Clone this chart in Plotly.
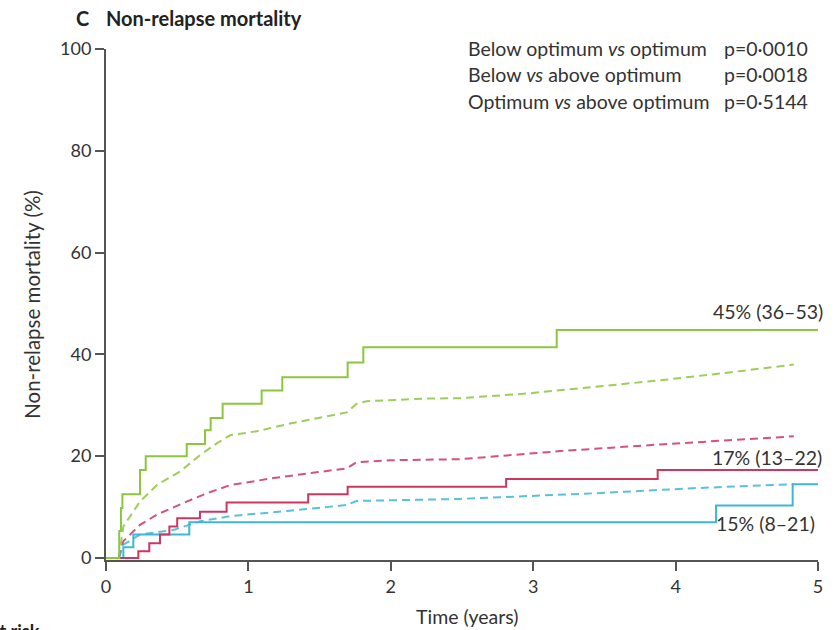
import plotly.graph_objects as go

# Cumulative incidence of non-relapse mortality (%), step curves by group
below_t = [0, 0.093, 0.093, 0.105, 0.115, 0.239, 0.279, 0.567, 0.695, 0.735, 0.819,
           1.093, 1.238, 1.697, 1.807, 3.165, 5.0]
below_y = [0, 0, 5.3, 9.8, 12.5, 17.3, 20.0, 22.4, 25.1, 27.5, 30.3,
           32.9, 35.5, 38.4, 41.4, 44.8, 44.8]

optimum_t = [0, 0.105, 0.122, 0.192, 0.585, 4.284, 4.822, 5.0]
optimum_y = [0, 0, 2.1, 4.6, 7.0, 10.3, 14.5, 14.5]

above_t = [0, 0.227, 0.304, 0.379, 0.445, 0.50, 0.66, 0.847, 1.42, 1.697, 2.81, 3.874, 5.0]
above_y = [0, 1.3, 2.9, 4.6, 6.2, 7.8, 9.1, 10.9, 12.5, 14.0, 15.5, 17.3, 17.3]

# Comparison curves (dashed)
below_ref_t = [0.09, 0.122, 0.239, 0.356, 0.52, 0.66, 0.777, 0.871, 1.058, 1.292, 1.526,
               1.69, 1.76, 1.83, 2.23, 2.486, 2.954, 3.42, 3.89, 4.36, 4.83]
below_ref_y = [0, 6.2, 11.1, 14.3, 17.0, 20.2, 22.5, 24.1, 24.9, 26.4, 27.7,
               28.6, 30.3, 30.8, 31.3, 31.4, 32.3, 33.6, 34.9, 36.4, 38.0]

above_ref_t = [0.09, 0.122, 0.239, 0.356, 0.543, 0.707, 0.871, 1.175, 1.526, 1.69, 1.76,
               1.994, 2.486, 3.19, 3.89, 4.83]
above_ref_y = [0, 3.3, 6.5, 8.5, 10.8, 12.7, 14.3, 15.7, 17.0, 17.6, 18.8,
               19.2, 19.4, 21.0, 22.3, 23.9]

optimum_ref_t = [0.09, 0.122, 0.239, 0.473, 0.66, 0.871, 1.29, 1.69, 1.76, 2.486, 3.42, 4.12, 4.83]
optimum_ref_y = [0, 2.6, 4.6, 5.5, 7.2, 8.2, 9.3, 10.4, 11.2, 11.6, 12.7, 13.7, 14.5]

end_labels = ["45% (36–53)", "17% (13–22)", "15% (8–21)"]
end_label_y = [48.5, 19.8, 6.8]
end_label_shift = [7, 6, -1]

comparisons = ["Below optimum <i>vs</i> optimum", "Below <i>vs</i> above optimum",
               "Optimum <i>vs</i> above optimum"]
p_values = ["p=0·0010", "p=0·0018", "p=0·5144"]

x_ticks = [0, 1, 2, 3, 4, 5]
y_ticks = [0, 20, 40, 60, 80, 100]

GREEN = "#8cc63f"
RED = "#cc3760"
BLUE = "#3db6d8"
TEXT = "#333333"
FONT = "Lato"

fig = go.Figure()

for t, y, c in [(below_ref_t, below_ref_y, GREEN), (above_ref_t, above_ref_y, RED),
                (optimum_ref_t, optimum_ref_y, BLUE)]:
    fig.add_trace(go.Scatter(x=t, y=y, mode="lines", opacity=0.85,
                             line=dict(color=c, width=2, dash="8px,5px"),
                             showlegend=False, hoverinfo="skip"))

for t, y, c in [(optimum_t, optimum_y, BLUE), (above_t, above_y, RED), (below_t, below_y, GREEN)]:
    fig.add_trace(go.Scatter(x=t, y=y, mode="lines", line=dict(color=c, width=2, shape="hv"),
                             showlegend=False, hoverinfo="skip"))

annotations = []
for lbl, yy, sh in zip(end_labels, end_label_y, end_label_shift):
    annotations.append(dict(x=5.0, y=yy, xref="x", yref="y", text=lbl, showarrow=False,
                            xanchor="right", yanchor="middle", xshift=sh,
                            font=dict(family=FONT, size=19.5, color=TEXT)))

for i, (cmp_txt, p) in enumerate(zip(comparisons, p_values)):
    ypix = 48 + i * 26.5
    annotations.append(dict(x=466, y=630 - ypix, xref="paper", yref="paper", text=cmp_txt,
                            showarrow=False, xanchor="left", yanchor="middle",
                            font=dict(family=FONT, size=19.5, color=TEXT)))
    annotations.append(dict(x=722, y=630 - ypix, xref="paper", yref="paper", text=p,
                            showarrow=False, xanchor="left", yanchor="middle",
                            font=dict(family=FONT, size=19.5, color=TEXT)))

# Panel title
annotations.append(dict(x=74, y=630 - 18, xref="paper", yref="paper",
                        text="<b>C</b>", showarrow=False, xanchor="left", yanchor="middle",
                        font=dict(family=FONT, size=20, color="#222")))
annotations.append(dict(x=104, y=630 - 18, xref="paper", yref="paper",
                        text="<b>Non-relapse mortality</b>", showarrow=False,
                        xanchor="left", yanchor="middle",
                        font=dict(family=FONT, size=20, color="#222")))
# x-axis title
annotations.append(dict(x=467, y=630 - 616, xref="paper", yref="paper",
                        text="Time (years)", showarrow=False,
                        xanchor="center", yanchor="middle",
                        font=dict(family=FONT, size=19.5, color=TEXT)))
# Heading of the at-risk table below
annotations.append(dict(x=42, y=630 - 631, xref="paper", yref="paper",
                        text="<b>Number at risk</b>", showarrow=False,
                        xanchor="right", yanchor="middle",
                        font=dict(family=FONT, size=18, color="#222")))

# Convert paper-pixel annotations into paper fractions
L, R, T, B = 106, 22, 49, 70
pw, ph = 840 - L - R, 630 - T - B
for a in annotations:
    if a["xref"] == "paper":
        a["x"] = (a["x"] - L) / pw
        a["y"] = (a["y"] - B) / ph

fig.update_layout(
    width=840, height=630,
    margin=dict(l=L, r=R, t=T, b=B, autoexpand=False),
    paper_bgcolor="white", plot_bgcolor="white",
    font=dict(family=FONT, size=18, color=TEXT),
    annotations=annotations,
    xaxis=dict(range=[0, 5], tickvals=x_ticks, showgrid=False, zeroline=False,
               showline=True, linecolor="#555", linewidth=2, ticks="outside",
               ticklen=9, tickwidth=2, tickcolor="#555", automargin=False,
               tickfont=dict(family=FONT, size=18, color=TEXT)),
    yaxis=dict(range=[-0.4, 100], tickvals=y_ticks, showgrid=False, zeroline=False,
               showline=True, linecolor="#555", linewidth=2, ticks="outside",
               ticklen=9, tickwidth=2, tickcolor="#555", automargin=False,
               tickfont=dict(family=FONT, size=18, color=TEXT),
               title=dict(text="Non-relapse mortality (%)", standoff=14,
                          font=dict(family=FONT, size=20.5, color=TEXT))),
)

fig.write_html("out.html")
